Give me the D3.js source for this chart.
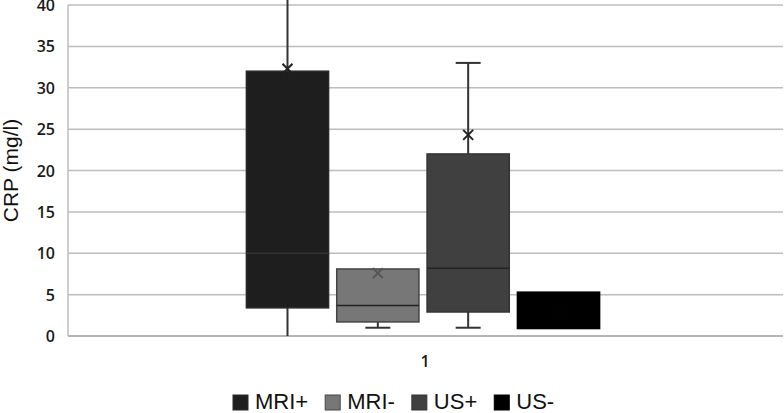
<!DOCTYPE html>
<html>
<head>
<meta charset="utf-8">
<script src="https://cdn.jsdelivr.net/npm/d3@7"></script>
<style>
  body { margin: 0; background: #fff; }
  svg { display: block; }
</style>
</head>
<body>
<svg></svg>
<script>
// box plot of CRP by imaging result, one category ("1")
const width = 784;
const height = 413;

const categories = ["1"];
const series = ["MRI+", "MRI-", "US+", "US-"];
const colors = ["#1e1e1e", "#777777", "#404040", "#000000"];
const strokes = ["#2a2a2a", "#444444", "#333333", "#000000"];
const mins = [0, 1, 1, 0.9];
const q1s = [3.4, 1.7, 2.9, 0.9];
const medians = [10, 3.7, 8.2, 3];
const q3s = [32, 8.1, 22, 5.3];
const maxs = [48, 8.1, 33, 5.3];
const means = [32.3, 7.6, 24.3, 3];
const yTicks = [0, 5, 10, 15, 20, 25, 30, 35, 40];

const margin = {top: 5, right: 1, bottom: 77, left: 68};

const svg = d3.select("svg")
  .attr("width", width)
  .attr("height", height);

const x = d3.scaleBand()
  .domain(categories)
  .range([margin.left, width - margin.right - 5])
  .paddingOuter(0.505);

const xInner = d3.scaleBand()
  .domain(series)
  .range([0, x.bandwidth()])
  .paddingInner(0.09);

const y = d3.scaleLinear()
  .domain([0, 40])
  .range([height - margin.bottom, margin.top]);

// gridlines
svg.append("g")
  .selectAll("line")
  .data(yTicks.slice(1))
  .join("line")
    .attr("x1", margin.left)
    .attr("x2", width - margin.right)
    .attr("y1", d => y(d))
    .attr("y2", d => y(d))
    .attr("stroke", "#bdbdbd")
    .attr("stroke-width", 1.5);

// y tick labels
svg.append("g")
  .selectAll("text")
  .data(yTicks)
  .join("text")
    .attr("x", 55)
    .attr("y", d => y(d) + 6)
    .attr("text-anchor", "end")
    .attr("font-family", "'Open Sans', sans-serif")
    .attr("font-size", 16)
    .attr("font-weight", 600)
    .attr("fill", "#1a1a1a")
    .text(d => d);

// axis lines
svg.append("line")
  .attr("x1", margin.left).attr("x2", margin.left)
  .attr("y1", y(40)).attr("y2", y(0))
  .attr("stroke", "#bdbdbd").attr("stroke-width", 1.5);
svg.append("line")
  .attr("x1", margin.left).attr("x2", width - margin.right)
  .attr("y1", y(0)).attr("y2", y(0))
  .attr("stroke", "#b5b5b5").attr("stroke-width", 2);

// x category label
svg.append("text")
  .attr("x", 425)
  .attr("y", 367)
  .attr("text-anchor", "middle")
  .attr("font-family", "'Open Sans', sans-serif")
  .attr("font-size", 16)
  .attr("font-weight", 600)
  .attr("fill", "#1a1a1a")
  .text("1");

// y title
svg.append("text")
  .attr("transform", `translate(18, ${(y(0) + y(40)) / 2}) rotate(-90)`)
  .attr("text-anchor", "middle")
  .attr("font-family", "'Liberation Sans', Arial, sans-serif")
  .attr("font-size", 21)
  .attr("fill", "#111")
  .text("CRP (mg/l)");

svg.append("clipPath")
  .attr("id", "clip")
  .append("rect")
    .attr("x", 0).attr("y", 0)
    .attr("width", width).attr("height", y(0) + 2);

const boxes = series.map((s, i) => ({
  name: s, color: colors[i], stroke: strokes[i],
  min: mins[i], q1: q1s[i], median: medians[i], q3: q3s[i], max: maxs[i], mean: means[i]
}));

const g = svg.append("g")
  .attr("clip-path", "url(#clip)")
  .selectAll("g")
  .data(boxes)
  .join("g")
    .attr("transform", d => `translate(${x("1") + xInner(d.name)}, 0)`);

const bw = xInner.bandwidth();
const capW = 25;

// whiskers (only drawn where they extend past the box)
g.each(function(d) {
  const sel = d3.select(this);
  const cx = bw / 2;
  if (d.max > d.q3) {
    sel.append("line")
      .attr("x1", cx).attr("x2", cx)
      .attr("y1", y(d.q3)).attr("y2", y(d.max))
      .attr("stroke", "#333").attr("stroke-width", 2);
    sel.append("line")
      .attr("x1", cx - capW / 2).attr("x2", cx + capW / 2)
      .attr("y1", y(d.max)).attr("y2", y(d.max))
      .attr("stroke", "#333").attr("stroke-width", 2);
  }
  if (d.min < d.q1) {
    sel.append("line")
      .attr("x1", cx).attr("x2", cx)
      .attr("y1", y(d.q1)).attr("y2", y(d.min))
      .attr("stroke", "#333").attr("stroke-width", 2);
    if (d.min > 0) {
      sel.append("line")
        .attr("x1", cx - capW / 2).attr("x2", cx + capW / 2)
        .attr("y1", y(d.min)).attr("y2", y(d.min))
        .attr("stroke", "#333").attr("stroke-width", 2);
    }
  }
});

g.append("rect")
  .attr("x", 0)
  .attr("width", bw)
  .attr("y", d => y(d.q3))
  .attr("height", d => y(d.q1) - y(d.q3))
  .attr("fill", d => d.color)
  .attr("stroke", d => d.stroke)
  .attr("stroke-width", 1.5);

g.append("line")
  .attr("x1", 0).attr("x2", bw)
  .attr("y1", d => y(d.median)).attr("y2", d => y(d.median))
  .attr("stroke", d => d.name === "US-" ? "#000" : d.name === "MRI+" ? "#333" : "#222")
  .attr("stroke-width", 1.5);

// mean markers
const m = 5;
g.append("path")
  .attr("d", d => {
    const cx = bw / 2, cy = y(d.mean);
    return `M${cx - m},${cy - m}L${cx + m},${cy + m}M${cx - m},${cy + m}L${cx + m},${cy - m}`;
  })
  .attr("stroke", d => d.name === "US-" ? "#020202" : d.name === "MRI-" ? "#555" : "#222")
  .attr("stroke-width", 2)
  .attr("fill", "none");

// legend
const legend = svg.append("g").attr("transform", "translate(233, 408)");
let lx = 0;
series.forEach((s, i) => {
  const item = legend.append("g").attr("transform", `translate(${lx}, 0)`);
  item.append("rect")
    .attr("x", 0).attr("y", -13)
    .attr("width", 15).attr("height", 15)
    .attr("fill", colors[i])
    .attr("stroke", strokes[i]);
  const t = item.append("text")
    .attr("x", 22)
    .attr("y", 1)
    .attr("font-family", "'Liberation Sans', Arial, sans-serif")
    .attr("font-size", 22)
    .attr("fill", "#111")
    .text(s);
  lx += 22 + t.node().getComputedTextLength() + 17;
});
</script>
</body>
</html>
